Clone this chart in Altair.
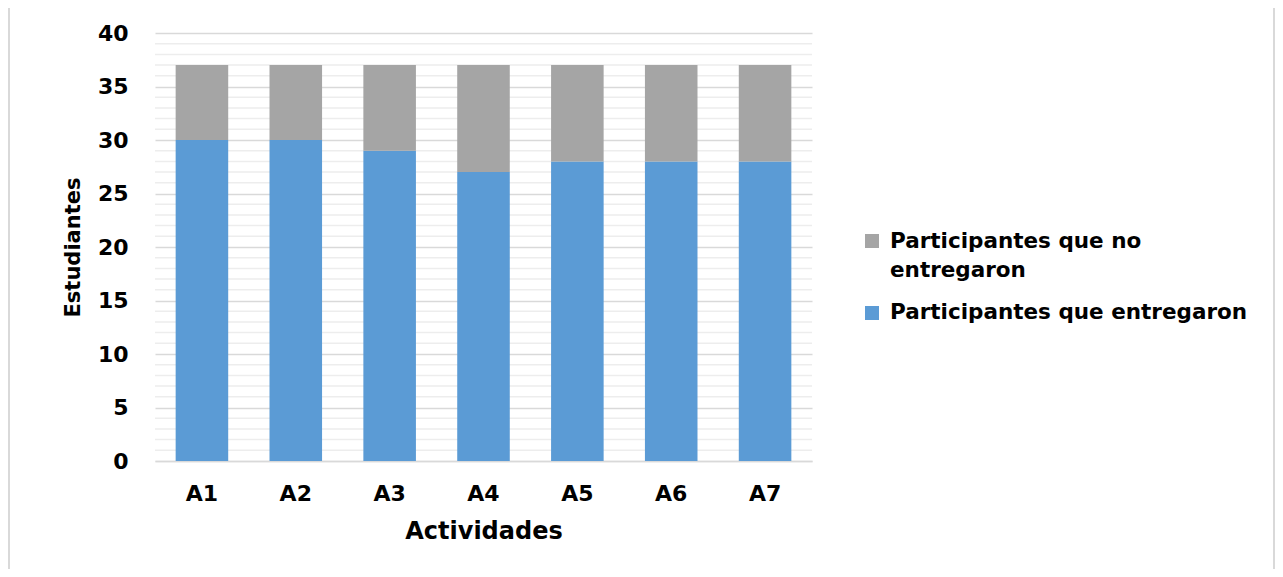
import altair as alt
import pandas as pd

actividades = ["A1", "A2", "A3", "A4", "A5", "A6", "A7"]
entregaron = [30, 30, 29, 27, 28, 28, 28]
no_entregaron = [7, 7, 8, 10, 9, 9, 9]
serie_no = "Participantes que no entregaron"
serie_si = "Participantes que entregaron"
colores = {serie_no: "#A5A5A5", serie_si: "#5B9BD5"}
etiquetas = {serie_no: "Participantes que no\nentregaron", serie_si: "Participantes que entregaron"}
y_major = [0, 5, 10, 15, 20, 25, 30, 35, 40]
y_minor = [v for v in range(0, 41) if v % 5 != 0]

rows = []
for a, s, n in zip(actividades, entregaron, no_entregaron):
    rows.append({"Actividad": a, "Serie": serie_si, "Valor": s, "ord": 0})
    rows.append({"Actividad": a, "Serie": serie_no, "Valor": n, "ord": 1})
df = pd.DataFrame(rows)
minor_df = pd.DataFrame({"v": y_minor})

FONT = "DejaVu Sans"

minor = alt.Chart(minor_df).mark_rule(color="#EDEDED", strokeWidth=1.5).encode(
    y=alt.Y("v:Q", scale=alt.Scale(domain=[0, 40]))
)

bars = alt.Chart(df).mark_bar().encode(
    x=alt.X("Actividad:N", sort=actividades,
            scale=alt.Scale(paddingInner=0.44, paddingOuter=0.22),
            axis=alt.Axis(title="Actividades", labelAngle=0, ticks=False,
                          domain=True, domainColor="#D9D9D9", domainWidth=1.5,
                          labelPadding=22, titlePadding=15, titleFontSize=24)),
    y=alt.Y("Valor:Q", stack="zero", scale=alt.Scale(domain=[0, 40]),
            axis=alt.Axis(title="Estudiantes", values=y_major, ticks=False,
                          domain=False, grid=True, gridColor="#D9D9D9",
                          gridWidth=1.5, labelPadding=27, titlePadding=14,
                          titleFontSize=21)),
    color=alt.Color("Serie:N",
                    scale=alt.Scale(domain=[serie_no, serie_si],
                                    range=[colores[serie_no], colores[serie_si]]),
                    legend=None),
    order=alt.Order("ord:Q"),
)

# manual legend (pixel placement relative to plot area)
leg_layers = []
for serie, sq_y, txt_y in [(serie_no, 208, 215), (serie_si, 280, 286)]:
    ldf = pd.DataFrame({"Serie": [serie], "Etiqueta": [etiquetas[serie]]})
    sq = alt.Chart(ldf).mark_square(size=196, opacity=1, color=colores[serie], clip=False).encode(
        x=alt.value(717), y=alt.value(sq_y)
    )
    tx = alt.Chart(ldf).mark_text(align="left", baseline="alphabetic", lineBreak="\n",
                                  lineHeight=29, font=FONT, fontWeight="bold",
                                  fontSize=21.5, color="#000000", clip=False).encode(
        x=alt.value(735), y=alt.value(txt_y), text="Etiqueta:N"
    )
    leg_layers += [sq, tx]

frame = alt.Chart(minor_df).mark_rect(fill=None, stroke="#D9D9D9", strokeWidth=2, clip=False).encode(
    x=alt.value(-146), x2=alt.value(1119), y=alt.value(-26), y2=alt.value(560)
)

chart = alt.layer(minor, bars, *leg_layers, frame).properties(
    width=657, height=428,
    autosize=alt.AutoSizeParams(type="none"),
    padding={"left": 147, "top": 25, "right": 463, "bottom": 108},
).configure_view(stroke=None).configure_axis(
    labelFont=FONT, labelFontWeight="bold", labelFontSize=22, labelColor="#000000",
    titleFont=FONT, titleFontWeight="bold", titleColor="#000000",
)

chart.save("out.html", embed_options={"renderer": "svg", "actions": False})
